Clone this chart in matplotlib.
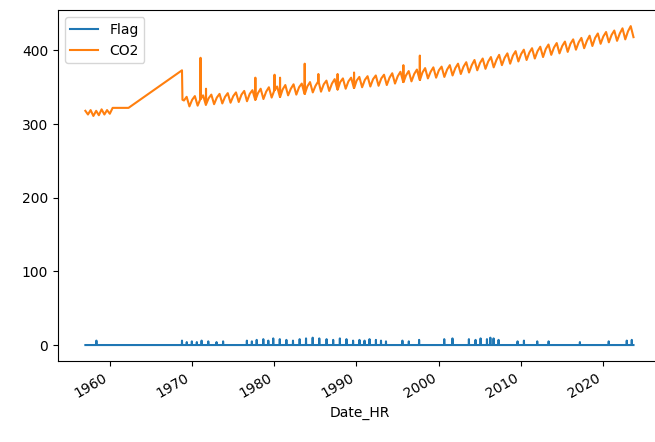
import matplotlib
matplotlib.use("Agg")
import matplotlib.pyplot as plt
import pandas as pd

# early flask record, then the long gap up to late 1968
early_dates = ["1957-01-20", "1957-05-15", "1957-09-10", "1958-01-10", "1958-05-15",
               "1958-09-10", "1959-01-10", "1959-05-15", "1959-09-10", "1960-01-10",
               "1960-05-15", "1962-04-20", "1968-10-20", "1968-11-10"]
early_co2 = [318, 313, 319, 311, 318, 312, 320, 313, 319, 314, 322, 322, 373, 333]

# mid-winter, spring maximum and late summer minimum, 1969-2023
years = list(range(1969, 2024))
co2_winter = [332, 333, 334, 335, 336, 337, 338, 340, 341, 342, 344, 346, 347, 348, 350,
              351, 352, 354, 355, 357, 358, 359, 360, 361, 362, 363, 365, 366, 368, 370,
              371, 373, 374, 376, 378, 380, 383, 385, 387, 390, 393, 395, 397, 399, 402,
              404, 406, 409, 411, 413, 417, 419, 421, 423, 426]
co2_peak = [337, 338, 339, 340, 341, 342, 343, 345, 346, 348, 350, 351, 353, 354, 355,
            357, 358, 359, 361, 362, 363, 364, 365, 366, 367, 369, 371, 372, 374, 376,
            377, 378, 380, 382, 384, 387, 389, 391, 394, 396, 399, 401, 403, 405, 408,
            410, 412, 415, 417, 420, 423, 425, 427, 430, 433]
co2_low = [324, 325, 326, 327, 328, 329, 330, 331, 333, 334, 336, 337, 339, 340, 341,
           343, 344, 345, 347, 348, 349, 350, 351, 352, 353, 355, 357, 358, 360, 362,
           363, 364, 366, 368, 370, 373, 375, 377, 380, 382, 385, 387, 389, 391, 394,
           396, 398, 401, 403, 406, 409, 411, 413, 415, 418]

# single contaminated samples and the clean sample right after each
spike_dates = ["1971-01-22", "1971-09-22", "1977-09-22", "1980-01-22", "1980-09-22",
               "1983-09-22", "1985-05-22", "1987-09-22", "1989-09-22", "1995-09-22",
               "1997-09-22"]
spike_co2 = [390, 348, 363, 367, 363, 382, 368, 368, 370, 380, 393]
after_dates = ["1971-01-29", "1971-09-29", "1977-09-29", "1980-01-29", "1980-09-29",
               "1983-09-29", "1985-05-29", "1987-09-29", "1989-09-29", "1995-09-29",
               "1997-09-29"]
after_co2 = [334, 327, 333, 346, 337, 341, 358, 347, 349, 357, 360]

# samples carrying a nonzero flag
flag_dates = ["1958-05-25", "1968-10-20", "1969-05-20", "1970-01-01", "1970-08-10",
              "1971-03-10", "1972-01-01", "1973-01-01", "1973-10-20", "1976-09-10",
              "1977-04-20", "1977-11-20", "1978-09-10", "1979-04-20", "1979-11-25",
              "1980-09-10", "1981-07-01", "1982-04-20", "1983-02-10", "1983-11-20",
              "1984-09-10", "1985-07-01", "1986-05-20", "1987-03-10", "1988-01-01",
              "1988-10-20", "1989-08-10", "1990-05-20", "1991-01-01", "1991-08-10",
              "1992-05-20", "1993-01-01", "1993-08-10", "1995-08-10", "1996-05-20",
              "1997-08-20", "2000-09-10", "2001-09-10", "2003-09-10", "2004-07-01",
              "2005-02-10", "2005-11-20", "2006-04-20", "2006-09-10", "2007-04-20",
              "2009-08-10", "2010-05-20", "2012-01-01", "2013-05-20", "2017-03-10",
              "2020-09-10", "2022-11-20", "2023-07-01"]
flag_values = [6, 6, 4, 5, 4, 6, 5, 4, 5, 6, 5, 7, 8, 6, 9, 8, 7, 6, 8, 9, 10, 9, 8,
               7, 9, 8, 6, 7, 6, 8, 7, 6, 5, 6, 5, 7, 8, 9, 8, 7, 9, 8, 10, 9, 7, 5,
               6, 5, 5, 4, 5, 6, 7]


def series(values, dates):
    return pd.Series(values, index=pd.to_datetime(dates))


co2 = pd.concat([
    series(early_co2, early_dates),
    series(co2_winter, [f"{y}-01-15" for y in years]),
    series(co2_peak, [f"{y}-05-15" for y in years]),
    series(co2_low, [f"{y}-09-15" for y in years]),
    series(spike_co2, spike_dates),
    series(after_co2, after_dates),
]).sort_index()

# flag is zero on every sample except the flagged ones,
# whose neighbouring samples a week apart are unflagged
flagged = series(flag_values, flag_dates)
week = pd.Timedelta(days=7)
neighbours = flagged.index.append([flagged.index - week, flagged.index + week])
clean_idx = co2.index.append(neighbours).unique()
clean_idx = clean_idx[~clean_idx.isin(flagged.index)]
flag = pd.concat([pd.Series(0, index=clean_idx), flagged]).sort_index()

fig = plt.figure(figsize=(6.55, 4.42), dpi=100)
ax = fig.add_axes([0.0885, 0.1833, 0.9205, 0.7937])
ax.plot(flag.index, flag.values, label="Flag")
ax.plot(co2.index, co2.values, label="CO2")
ax.legend(loc="upper left")
ax.set_xlabel("Date_HR")
plt.setp(ax.get_xticklabels(), rotation=30, ha="right")

fig.savefig("out.png", dpi=100)
